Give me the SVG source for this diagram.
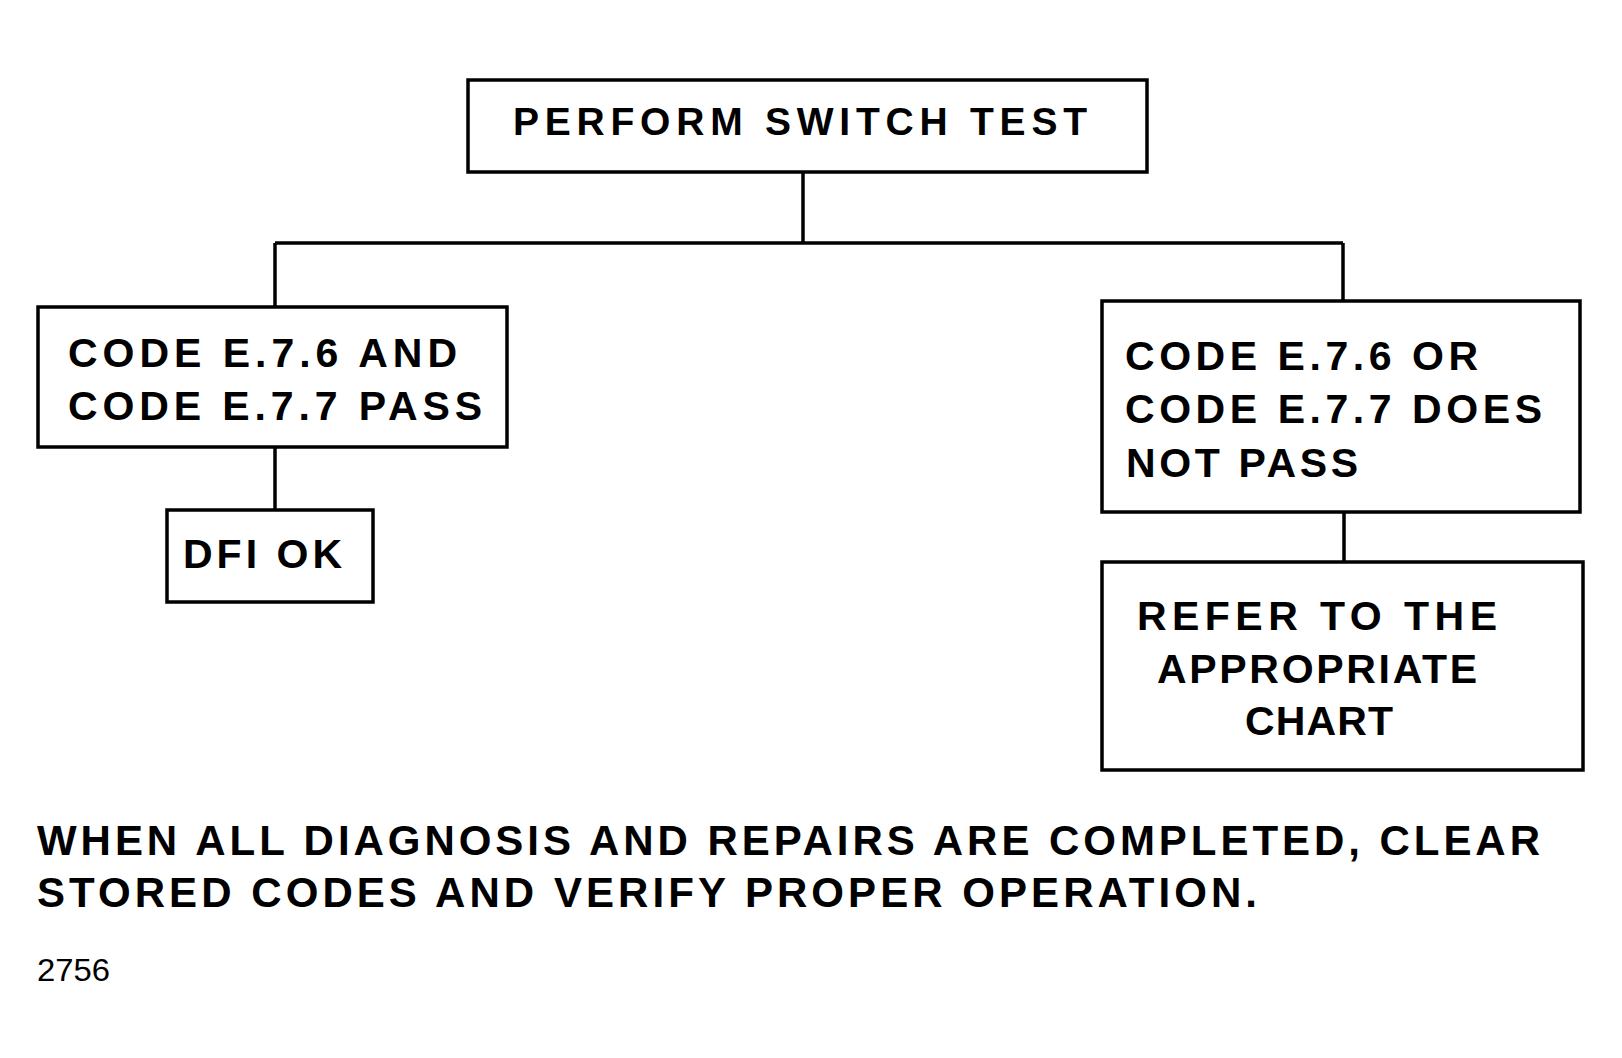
<svg xmlns="http://www.w3.org/2000/svg" width="1622" height="1058" viewBox="0 0 1622 1058">
<style>
.box{fill:#fff;stroke:#000;stroke-width:3.5}
.ln{stroke:#000;stroke-width:3.5;fill:none}
.t{font-family:"Liberation Sans",Arial,sans-serif;font-weight:bold;font-size:41px;fill:#000}
.h{font-size:39px}
.b{font-size:42px}
.n{font-family:"Liberation Sans",Arial,sans-serif;font-size:32px;fill:#000}
</style>
<rect width="1622" height="1058" fill="#fff"/>
<g id="connectors">
<line class="ln" x1="803" y1="172" x2="803" y2="243"/>
<line class="ln" x1="275" y1="243" x2="1343" y2="243"/>
<line class="ln" x1="275" y1="243" x2="275" y2="307"/>
<line class="ln" x1="1343" y1="243" x2="1343" y2="301"/>
<line class="ln" x1="275" y1="447" x2="275" y2="510"/>
<line class="ln" x1="1344" y1="512" x2="1344" y2="562"/>
</g>
<g id="n-perform">
<rect class="box" x="468" y="80" width="679" height="92"/>
<text class="t h" x="513" y="135" textLength="574" lengthAdjust="spacing">PERFORM SWITCH TEST</text>
</g>
<g id="n-pass">
<rect class="box" x="38" y="307" width="469" height="140"/>
<text class="t" x="68" y="367" textLength="389" lengthAdjust="spacing">CODE E.7.6 AND</text>
<text class="t" x="68" y="420" textLength="414" lengthAdjust="spacing">CODE E.7.7 PASS</text>
</g>
<g id="n-dfiok">
<rect class="box" x="167" y="510" width="206" height="92"/>
<text class="t" x="183" y="568" textLength="159" lengthAdjust="spacing">DFI OK</text>
</g>
<g id="n-notpass">
<rect class="box" x="1102" y="301" width="478" height="211"/>
<text class="t" x="1125" y="370" textLength="353" lengthAdjust="spacing">CODE E.7.6 OR</text>
<text class="t" x="1125" y="423" textLength="417" lengthAdjust="spacing">CODE E.7.7 DOES</text>
<text class="t" x="1126" y="477" textLength="232" lengthAdjust="spacing">NOT PASS</text>
</g>
<g id="n-refer">
<rect class="box" x="1102" y="562" width="481" height="208"/>
<text class="t" x="1137" y="630" textLength="360" lengthAdjust="spacing">REFER TO THE</text>
<text class="t" x="1157" y="683" textLength="320" lengthAdjust="spacing">APPROPRIATE</text>
<text class="t" x="1245" y="735" textLength="148" lengthAdjust="spacing">CHART</text>
</g>
<g id="note">
<text class="t b" x="37" y="855" textLength="1503" lengthAdjust="spacing">WHEN ALL DIAGNOSIS AND REPAIRS ARE COMPLETED, CLEAR</text>
<text class="t b" x="37" y="907" textLength="1220" lengthAdjust="spacing">STORED CODES AND VERIFY PROPER OPERATION.</text>
<text class="n" x="37" y="981" textLength="73" lengthAdjust="spacingAndGlyphs">2756</text>
</g>
</svg>
